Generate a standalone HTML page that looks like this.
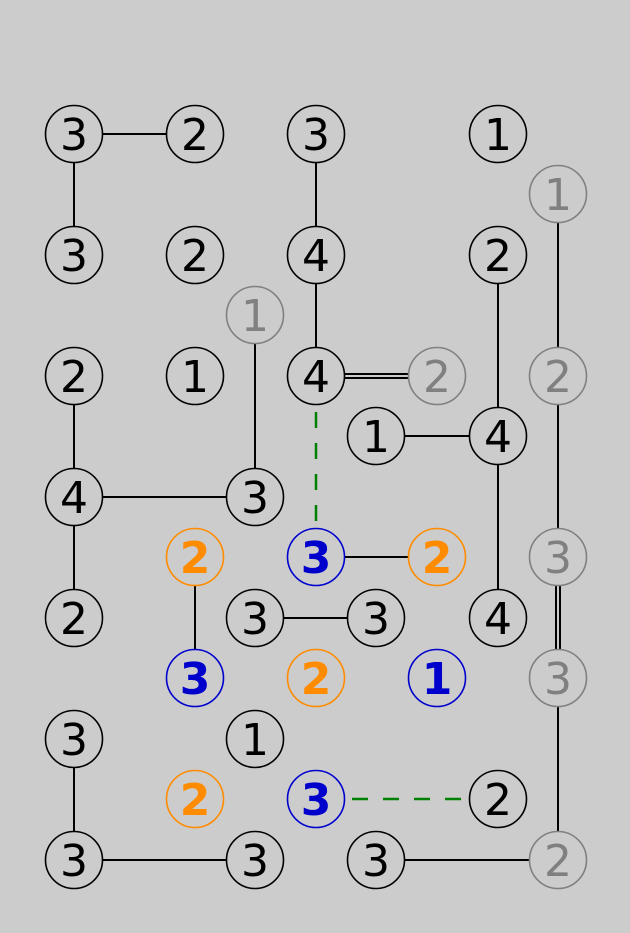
<!DOCTYPE html>
<html><head><style>html,body{margin:0;padding:0;background:#cccccc}svg{display:block}</style></head><body>
<svg width="630" height="933" xmlns="http://www.w3.org/2000/svg">
<rect width="630" height="933" fill="#cccccc"/>
<g stroke="#000" stroke-width="2" fill="none">
<line x1="74" y1="134" x2="195" y2="134"/>
<line x1="74" y1="134" x2="74" y2="255"/>
<line x1="316" y1="134" x2="316" y2="376"/>
<line x1="316" y1="374" x2="437" y2="374"/>
<line x1="316" y1="378" x2="437" y2="378"/>
<line x1="558" y1="194" x2="558" y2="557"/>
<line x1="556" y1="557" x2="556" y2="678"/>
<line x1="560" y1="557" x2="560" y2="678"/>
<line x1="558" y1="678" x2="558" y2="860"/>
<line x1="498" y1="255" x2="498" y2="618"/>
<line x1="376" y1="436" x2="498" y2="436"/>
<line x1="255" y1="315" x2="255" y2="497"/>
<line x1="74" y1="376" x2="74" y2="618"/>
<line x1="74" y1="497" x2="255" y2="497"/>
<line x1="316" y1="557" x2="437" y2="557"/>
<line x1="195" y1="557" x2="195" y2="678"/>
<line x1="255" y1="618" x2="376" y2="618"/>
<line x1="74" y1="739" x2="74" y2="860"/>
<line x1="74" y1="860" x2="255" y2="860"/>
<line x1="376" y1="860" x2="558" y2="860"/>
</g>
<g stroke="#008000" stroke-width="2.5" stroke-dasharray="16,15">
<line x1="316" y1="412" x2="316" y2="528"/>
<line x1="352" y1="799" x2="470" y2="799"/>
</g>
<g font-family="'DejaVu Sans','Liberation Sans',sans-serif" font-size="44" text-anchor="middle" stroke-width="1.6">
<g fill="#ccc" stroke="#000">
<circle cx="74" cy="134" r="28.5"/><circle cx="195" cy="134" r="28.5"/><circle cx="316" cy="134" r="28.5"/><circle cx="498" cy="134" r="28.5"/>
<circle cx="74" cy="255" r="28.5"/><circle cx="195" cy="255" r="28.5"/><circle cx="316" cy="255" r="28.5"/><circle cx="498" cy="255" r="28.5"/>
<circle cx="74" cy="376" r="28.5"/><circle cx="195" cy="376" r="28.5"/><circle cx="316" cy="376" r="28.5"/>
<circle cx="376" cy="436" r="28.5"/><circle cx="498" cy="436" r="28.5"/>
<circle cx="74" cy="497" r="28.5"/><circle cx="255" cy="497" r="28.5"/>
<circle cx="74" cy="618" r="28.5"/><circle cx="255" cy="618" r="28.5"/><circle cx="376" cy="618" r="28.5"/><circle cx="498" cy="618" r="28.5"/>
<circle cx="74" cy="739" r="28.5"/><circle cx="255" cy="739" r="28.5"/>
<circle cx="498" cy="799" r="28.5"/>
<circle cx="74" cy="860" r="28.5"/><circle cx="255" cy="860" r="28.5"/><circle cx="376" cy="860" r="28.5"/>
</g>
<g fill="#ccc" stroke="#808080">
<circle cx="558" cy="194" r="28.5"/><circle cx="255" cy="315" r="28.5"/><circle cx="437" cy="376" r="28.5"/><circle cx="558" cy="376" r="28.5"/>
<circle cx="558" cy="557" r="28.5"/><circle cx="558" cy="678" r="28.5"/><circle cx="558" cy="860" r="28.5"/>
</g>
<g fill="#ccc" stroke="#ff8c00">
<circle cx="195" cy="557" r="28.5"/><circle cx="437" cy="557" r="28.5"/><circle cx="316" cy="678" r="28.5"/><circle cx="195" cy="799" r="28.5"/>
</g>
<g fill="#ccc" stroke="#0000cd">
<circle cx="316" cy="557" r="28.5"/><circle cx="195" cy="678" r="28.5"/><circle cx="437" cy="678" r="28.5"/><circle cx="316" cy="799" r="28.5"/>
</g>
<g fill="#000">
<text x="74" y="150">3</text><text x="195" y="150">2</text><text x="316" y="150">3</text><text x="498" y="150">1</text>
<text x="74" y="271">3</text><text x="195" y="271">2</text><text x="316" y="271">4</text><text x="498" y="271">2</text>
<text x="74" y="392">2</text><text x="195" y="392">1</text><text x="316" y="392">4</text>
<text x="376" y="452">1</text><text x="498" y="452">4</text>
<text x="74" y="513">4</text><text x="255" y="513">3</text>
<text x="74" y="634">2</text><text x="255" y="634">3</text><text x="376" y="634">3</text><text x="498" y="634">4</text>
<text x="74" y="755">3</text><text x="255" y="755">1</text>
<text x="498" y="815">2</text>
<text x="74" y="876">3</text><text x="255" y="876">3</text><text x="376" y="876">3</text>
</g>
<g fill="#808080">
<text x="558" y="210">1</text><text x="255" y="331">1</text><text x="437" y="392">2</text><text x="558" y="392">2</text>
<text x="558" y="573">3</text><text x="558" y="694">3</text><text x="558" y="876">2</text>
</g>
<g fill="#ff8c00" font-weight="bold">
<text x="195" y="573">2</text><text x="437" y="573">2</text><text x="316" y="694">2</text><text x="195" y="815">2</text>
</g>
<g fill="#0000cd" font-weight="bold">
<text x="316" y="573">3</text><text x="195" y="694">3</text><text x="437" y="694">1</text><text x="316" y="815">3</text>
</g>
</g>
</svg>
</body></html>
